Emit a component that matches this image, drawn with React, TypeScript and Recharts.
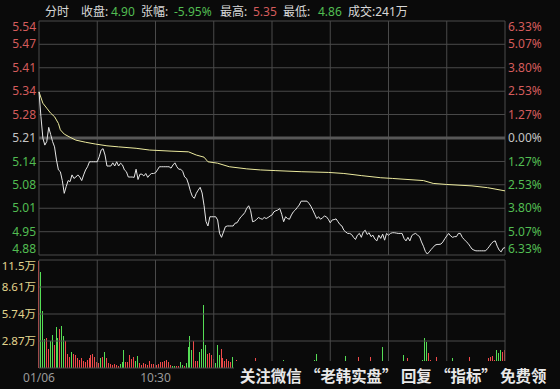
import { ComposedChart, BarChart, Bar, Line, XAxis, YAxis, ReferenceLine } from 'recharts';

// previous close and the percent levels drawn on both price axes
const PREV_CLOSE = 5.21;
const pctLevels = [6.33, 5.07, 3.8, 2.53, 1.27, 0, -1.27, -2.53, -3.8, -5.07, -6.33];
const timeGrid = [0, 30, 60, 90, 120, 150, 180, 210, 240];
const timeLabelTicks = [0, 60];
const timeLabelTexts = ['01/06', '10:30'];
const volTicks = [2.87, 5.74, 8.61, 11.48];

// minute prices, 9:30 - 11:30
const amPrices = [
  5.34, 5.27, 5.21, 5.19, 5.2, 5.24, 5.22, 5.2, 5.185, 5.148,
  5.12, 5.115, 5.09, 5.054, 5.073, 5.09, 5.087, 5.106, 5.096, 5.1,
  5.106, 5.1, 5.09, 5.106, 5.12, 5.129, 5.143, 5.143, 5.143, 5.143,
  5.143, 5.157, 5.176, 5.18, 5.162, 5.131, 5.131, 5.131, 5.14, 5.131,
  5.143, 5.131, 5.139, 5.134, 5.12, 5.115, 5.1, 5.1, 5.1, 5.099,
  5.122, 5.093, 5.108, 5.108, 5.103, 5.11, 5.099, 5.106, 5.11, 5.11,
  5.112, 5.12, 5.129, 5.129, 5.129, 5.129, 5.129, 5.129, 5.125, 5.134,
  5.14, 5.129, 5.122, 5.122, 5.116, 5.1, 5.096, 5.08, 5.06, 5.045,
  5.04, 5.054, 5.063, 5.071, 5.055, 5.02, 4.975, 4.962, 4.988, 4.988,
  4.988, 4.988, 4.979, 4.941, 4.93, 4.945, 4.96, 4.962, 4.962, 4.962,
  4.962, 4.97, 4.971, 4.98, 4.988, 4.993, 5.0, 5.012, 5.019, 5.005,
  4.974, 4.976, 4.98, 4.986, 4.983, 4.981, 4.986, 4.983, 4.986, 4.99,
  4.993,
];

// minute prices, 13:00 - 15:00
const pmPrices = [
  5.002, 5.005, 5.007, 5.011, 4.995, 4.974, 4.988, 4.983, 4.981, 4.993,
  5.002, 5.007, 5.014, 5.021, 5.032, 5.032, 5.032, 5.032, 5.026, 5.018,
  5.007, 4.995, 4.983, 4.988, 4.981, 4.985, 4.99, 4.988, 4.981, 4.971,
  4.979, 4.98, 4.982, 4.974, 4.966, 4.962, 4.95, 4.945, 4.941, 4.941,
  4.938, 4.93, 4.924, 4.936, 4.941, 4.93, 4.945, 4.95, 4.938, 4.943,
  4.932, 4.936, 4.925, 4.92, 4.936, 4.927, 4.939, 4.922, 4.941, 4.936,
  4.941, 4.943, 4.943, 4.942, 4.941, 4.941, 4.941, 4.927, 4.92, 4.93,
  4.92, 4.935, 4.939, 4.941, 4.936, 4.932, 4.917, 4.905, 4.89, 4.883,
  4.889, 4.896, 4.902, 4.908, 4.91, 4.91, 4.911, 4.917, 4.926, 4.934,
  4.941, 4.934, 4.93, 4.932, 4.932, 4.941, 4.941, 4.93, 4.924, 4.918,
  4.913, 4.905, 4.897, 4.894, 4.892, 4.892, 4.892, 4.892, 4.892, 4.892,
  4.898, 4.905, 4.913, 4.918, 4.92, 4.905, 4.894, 4.889, 4.899, 4.901,
];

// average price line
const avgMinutes = [0, 2, 4, 6, 8, 10, 11, 13, 16, 19, 24, 29, 35, 41, 50, 57, 68, 77, 81, 85, 87, 92, 98, 107, 114, 122, 135, 149, 157, 166, 176, 182, 198, 203, 210, 223, 231, 240];
const avgPrices = [5.34, 5.308, 5.294, 5.28, 5.27, 5.251, 5.233, 5.221, 5.212, 5.204, 5.198, 5.193, 5.188, 5.185, 5.181, 5.176, 5.173, 5.171, 5.162, 5.156, 5.143, 5.139, 5.129, 5.123, 5.12, 5.118, 5.115, 5.113, 5.11, 5.104, 5.098, 5.096, 5.09, 5.082, 5.079, 5.075, 5.07, 5.061];

// volume per minute (万 shares)
const amVolumes = [
  11.4, 10.2, 6.06, 3.08, 3.22, 2.02, 2.87, 3.51, 2.45, 4.39,
  3.22, 4.15, 4.5, 3.44, 2.87, 1.45, 1.2, 1.67, 1.45, 1.38,
  1.1, 0.85, 1.03, 0.74, 0.6, 0.85, 1.03, 1.38, 1.45, 1.2,
  0.6, 0.5, 1.03, 1.2, 1.74, 1.1, 0.5, 0.39, 0.32, 0.46,
  0.32, 0.25, 0.39, 0.6, 1.91, 0.6, 0.67, 1.38, 0.96, 1.2,
  0.74, 1.31, 0.5, 0.32, 0.5, 0.39, 0.32, 0.74, 0.39, 0.4,
  0.96, 0.32, 0.39, 0.6, 0.6, 0.74, 0.85, 0.6, 0.32, 0.18,
  0.25, 0.18, 0.21, 0.67, 0.32, 0.18, 0.5, 2.27, 3.44, 1.91,
  2.87, 0.74, 0.74, 1.74, 2.02, 6.7, 2.45, 1.45, 1.56, 1.38,
  0.96, 0.5, 2.45, 1.38, 2.02, 1.03, 0.74, 0.96, 0.74, 0.6,
  1.2, 0.4, 0.9, 0.5, 0.6, 0.4, 0.5, 0.7, 0.5, 0.4,
  0.6, 0.5, 1.03, 0.4, 0.5, 0.3, 0.6, 0.4, 0.5, 0.3,
  0.5,
];
const pmVolumes = [
  0.5, 0.6, 0.4, 0.7, 0.5, 0.8, 0.4, 0.3, 0.5, 0.6,
  0.4, 0.5, 0.6, 0.7, 0.5, 0.4, 0.3, 0.5, 0.4, 0.6,
  0.7, 0.9, 1.46, 0.5, 0.4, 0.3, 0.5, 0.4, 0.3, 0.6,
  0.4, 0.3, 0.5, 0.4, 0.6, 0.5, 0.7, 1.28, 0.4, 0.3,
  0.5, 0.6, 0.7, 0.4, 1.2, 0.5, 0.4, 0.3, 0.5, 0.4,
  1.2, 0.5, 0.4, 0.6, 0.3, 0.5, 2.27, 0.6, 0.4, 0.3,
  0.4, 0.3, 0.5, 0.4, 0.3, 0.5, 0.6, 1.38, 0.5, 1.03,
  0.4, 0.5, 0.3, 0.4, 0.5, 0.6, 0.7, 0.8, 3.16, 2.8,
  1.56, 0.8, 0.6, 0.5, 1.2, 0.4, 0.5, 0.6, 0.4, 0.3,
  0.5, 0.4, 1.1, 0.5, 0.3, 0.4, 0.5, 0.6, 0.4, 0.5,
  0.6, 1.13, 0.4, 0.3, 0.5, 0.4, 0.3, 0.5, 0.4, 0.6,
  0.7, 1.03, 1.13, 1.28, 0.8, 1.91, 1.56, 1.91, 1.73, 1.91,
];
// r = up minute, g = down minute
const amColors = ['rgggrrggrg', 'grggrrrgrr', 'rrrrrrrrrr', 'rrgrgrrrrr', 'rrgggrrrrr', 'ggrrrrrrrr', 'rrrrrrrrrg', 'grrggrgggg', 'rrrggggrrr', 'rgggrrrrrr', 'grrrrrrrgg', 'grrrrrrrrr', 'r'];
const pmColors = ['rrrrggrggr', 'rrrrrrrrgg', 'gggrgrrggg', 'rrrggggggr', 'gggrrgrrgr', 'rrggrgggrg', 'rrrggrrggr', 'grrrgggggg', 'rrrrrrrrrr', 'rggrrrrggg', 'grgggrrgrr', 'rrrrrgggrr'];

const UP = '#d45c5c';
const DOWN = '#52bd52';
const FLAT = '#c4c4c4';
const GRID = '#4a4a4a';
const BG = '#0a0a0a';
const VOL_UP = '#f04a4a';
const VOL_DOWN = '#55dd55';
const FONT = "'Noto Sans', 'Noto Sans CJK SC', sans-serif";

const levels = pctLevels.map((p) => PREV_CLOSE * (1 + p / 100));
const PMAX = Math.max(...levels);
const PMIN = Math.min(...levels);

const priceData = [...amPrices, ...pmPrices].map((price, t) => ({ t, price }));
const avgData = avgMinutes.map((t, i) => ({ t, avg: avgPrices[i] }));
const colorStr = amColors.join('') + pmColors.join('');
const volData = [...amVolumes, ...pmVolumes].map((vol, t) => ({ t, vol, up: colorStr[t] === 'r' }));

const levelColor = (v: number) => (Math.abs(v - PREV_CLOSE) < 1e-6 ? FLAT : v > PREV_CLOSE ? UP : DOWN);
const edgeShift = (v: number) => (v > PMAX - 1e-6 ? 6 : v < PMIN + 1e-6 ? -6 : 0);

function PriceTick(props: any) {
  const { x, y, payload } = props;
  const v = payload.value;
  return (
    <text x={x} y={y + edgeShift(v)} dy="0.35em" textAnchor="end" fill={levelColor(v)} fontSize={12} fontFamily={FONT}>
      {v.toFixed(2)}
    </text>
  );
}

function PctTick(props: any) {
  const { x, y, payload } = props;
  const v = payload.value;
  const pct = Math.abs((v / PREV_CLOSE - 1) * 100);
  return (
    <text x={x} y={y + edgeShift(v)} dy="0.35em" textAnchor="start" fill={levelColor(v)} fontSize={12} fontFamily={FONT}>
      {pct.toFixed(2)}%
    </text>
  );
}

function VolTick(props: any) {
  const { x, y, payload } = props;
  const v = payload.value;
  const shift = v >= 11 ? 6 : 0;
  return (
    <text x={x} y={y + shift} dy="0.35em" textAnchor="end" fill="#e2d58e" fontSize={11.5} fontFamily={FONT}>
      {v >= 10 ? v.toFixed(1) : v.toFixed(2)}万
    </text>
  );
}

function TimeTick(props: any) {
  const { x, y, payload } = props;
  const label = timeLabelTexts[timeLabelTicks.indexOf(payload.value)];
  return (
    <text x={x} y={y + 10} dy="0.35em" textAnchor="middle" fill="#9a9a9a" fontSize={12} fontFamily={FONT}>
      {label}
    </text>
  );
}

// one-pixel volume bar, colour taken from the minute's direction
function VolBar(props: any) {
  const { x, y, width, height, payload } = props;
  if (!height || height <= 0) return null;
  return (
    <rect x={x} y={y} width={width} height={height} fill={payload && payload.up ? VOL_UP : VOL_DOWN} shapeRendering="crispEdges" />
  );
}

const header: Array<[number, string, string]> = [
  [45, '分时', '#d8d8d8'],
  [81, '收盘:', '#d8d8d8'],
  [111, '4.90', DOWN],
  [141, '张幅:', '#d8d8d8'],
  [174, '-5.95%', DOWN],
  [220, '最高:', '#d8d8d8'],
  [253, '5.35', UP],
  [283, '最低:', '#d8d8d8'],
  [318, '4.86', DOWN],
  [348, '成交:241万', '#d8d8d8'],
];

export default function App() {
  return (
    <div style={{ position: 'fixed', left: 0, top: 0, width: 560, height: 389, background: BG, overflow: 'hidden' }}>
      {header.map(([x, text, color]) => (
        <div key={x} style={{ position: 'absolute', left: x, top: 3, fontSize: 12, lineHeight: '18px', color, fontFamily: FONT, whiteSpace: 'pre' }}>
          {text}
        </div>
      ))}

      <div style={{ position: 'absolute', left: 0, top: 0 }}>
        <ComposedChart width={560} height={260} data={priceData} margin={{ top: 21, right: 0, bottom: 5, left: 0 }}>
          <XAxis dataKey="t" type="number" domain={[0, 240]} hide />
          <YAxis yAxisId="l" orientation="left" width={39} type="number" domain={[PMIN, PMAX]} allowDataOverflow ticks={levels} interval={0}
            axisLine={false} tickLine={false} tickSize={0} tickMargin={3} tick={<PriceTick />} />
          <YAxis yAxisId="r" orientation="right" width={55} type="number" domain={[PMIN, PMAX]} allowDataOverflow ticks={levels} interval={0}
            axisLine={false} tickLine={false} tickSize={0} tickMargin={3} tick={<PctTick />} />
          {timeGrid.map((t) => (
            <ReferenceLine key={'v' + t} x={t} yAxisId="l" stroke={GRID} strokeWidth={1} />
          ))}
          {levels.map((v, i) => (
            <ReferenceLine key={'h' + i} y={v} yAxisId="l" stroke={pctLevels[i] === 0 ? '#575757' : GRID} strokeWidth={pctLevels[i] === 0 ? 3 : 1} />
          ))}
          <Line yAxisId="l" data={avgData} dataKey="avg" type="linear" stroke="#ecea9e" strokeWidth={1} dot={false} isAnimationActive={false} />
          <Line yAxisId="l" dataKey="price" type="linear" stroke="#e6e6e6" strokeWidth={1} dot={false} isAnimationActive={false} />
        </ComposedChart>
      </div>

      <div style={{ position: 'absolute', left: 0, top: 0 }}>
        <BarChart width={560} height={389} data={volData} margin={{ top: 260, right: 55, bottom: 0, left: 0 }}>
          <XAxis dataKey="t" type="number" domain={[0, 240]} ticks={timeLabelTicks} interval={0} height={21}
            axisLine={false} tickLine={false} tickSize={0} tickMargin={0} tick={<TimeTick />} />
          <YAxis orientation="left" width={39} type="number" domain={[0, 11.48]} allowDataOverflow ticks={volTicks} interval={0}
            axisLine={false} tickLine={false} tickSize={0} tickMargin={3} tick={<VolTick />} />
          {timeGrid.map((t) => (
            <ReferenceLine key={'vv' + t} x={t} stroke={GRID} strokeWidth={1} />
          ))}
          {[0, ...volTicks].map((v) => (
            <ReferenceLine key={'vh' + v} y={v} stroke={GRID} strokeWidth={1} />
          ))}
          <Bar dataKey="vol" barSize={1} isAnimationActive={false} shape={<VolBar />} />
        </BarChart>
      </div>

      <div style={{ position: 'absolute', left: 234, top: 361, width: 326, height: 28, background: BG, color: '#e8e8e8',
        fontFamily: "'Noto Sans CJK SC', sans-serif", fontWeight: 700, fontSize: 15.4, lineHeight: '28px', paddingLeft: 6, whiteSpace: 'pre' }}>
        关注微信 “老韩实盘” 回复 “指标” 免费领
      </div>
    </div>
  );
}
